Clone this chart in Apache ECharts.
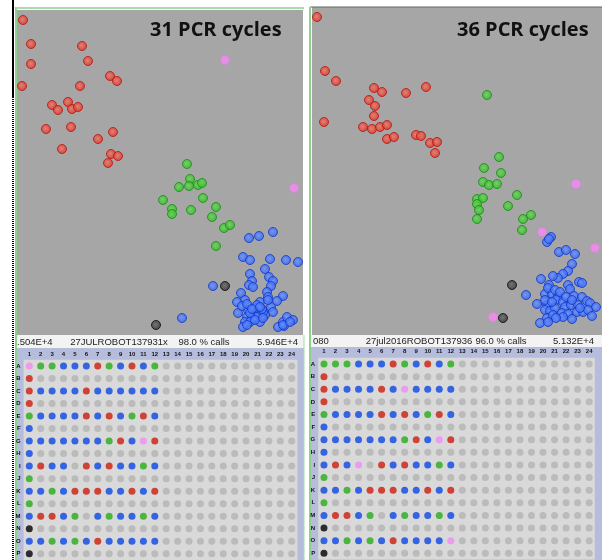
<!DOCTYPE html>
<html><head><meta charset="utf-8">
<script src="https://cdn.jsdelivr.net/npm/echarts@6/dist/echarts.min.js"></script>
<style>html,body{margin:0;padding:0;background:#fff}#c{width:602px;height:560px}</style>
</head><body><div id="c"></div>
<script>
// ---- Scatter data (signal units, x = allele 1, y = allele 2) ----
const leftRed = [[6,313],[14,289],[14,269],[5,247],[65,287],[71,272],[93,257],[100,252],[63,247],[35,228],[41,223],[51,231],[55,224],[61,226],[29,204],[54,206],[96,201],[81,194],[45,184],[94,179],[101,177],[91,170]];
const leftGreen = [[170,169],[173,154],[162,146],[172,147],[181,148],[185,150],[146,133],[186,135],[155,124],[155,119],[174,123],[199,126],[195,116],[207,105],[213,108],[199,87]];
const leftBlue = [[232,95],[242,97],[256,101],[226,76],[233,73],[253,74],[269,73],[281,71],[233,59],[248,64],[252,56],[256,52],[235,52],[232,48],[236,46],[196,47],[224,40],[254,47],[250,41],[251,36],[266,37],[260,32],[228,33],[220,31],[243,31],[254,26],[256,21],[221,20],[231,23],[236,20],[241,20],[248,18],[230,16],[235,15],[240,16],[243,11],[228,11],[226,6],[165,15],[261,6],[266,11],[270,16],[276,13],[267,7],[233,20],[238,25],[246,21],
  [225,27],[230,29],[240,28],[245,24],[233,11],[238,13],[230,8],[246,15],[251,33],[266,8],[273,11],[235,24],[243,26]];
const leftPink = [[208,273],[277,145]];
const leftBlack = [[208,47],[139,8]];

const rightRed = [[5,316],[13,262],[24,252],[62,245],[70,241],[94,240],[114,246],[57,233],[63,227],[62,217],[12,211],[51,206],[60,204],[68,206],[75,208],[75,194],[82,196],[104,198],[109,197],[118,190],[125,191],[123,180]];
const rightGreen = [[175,238],[187,176],[172,165],[189,160],[171,151],[177,148],[185,149],[205,138],[165,134],[171,135],[165,129],[167,123],[196,127],[165,114],[211,114],[219,118],[210,103]];
const rightBlue = [[239,96],[235,91],[237,94],[247,81],[254,83],[263,79],[260,69],[256,62],[251,59],[246,55],[241,57],[229,54],[237,48],[267,51],[270,50],[256,48],[258,44],[214,38],[233,39],[240,39],[246,37],[262,37],[270,36],[275,32],[225,29],[235,28],[244,33],[251,31],[253,26],[259,28],[266,28],[278,30],[284,26],[233,23],[238,22],[243,25],[250,20],[256,19],[265,21],[271,21],[276,23],[235,15],[241,18],[251,16],[260,14],[280,17],[228,10],
  [236,45],[243,43],[248,41],[233,33],[240,31],[254,36],[260,33],[244,15],[236,11],[268,25]];
const rightPink = [[264,149],[230,101],[283,85],[181,16]];
const rightBlack = [[200,48],[191,15]];

// ---- Plate calls (rows A-P, columns 1..24; R red, B blue, G green, P pink, K black, '.' none) ----
const plateRows = ['A','B','C','D','E','F','G','H','I','J','K','L','M','N','O','P'];
const plateCols = Array.from({length:24},(_,i)=>String(i+1));
const plateLeft = ['PGGBBBRGBRBG','R','RBBBBRBBBBBB','R','GBBBBRBRBGRB','B','BBBBBBBGRBPR','B','BRBB.RBRBBGB','G','BBGBRRRBBRBR','G','BRRBG.BGBBGB','K','BBGBGBRBBBBB','K'];
const plateRight = ['GGGBBBRGBRBG','R','RBBBBRBPBBBB','R','GBBBBRBRBGRB','B','BBBBBBBGRBPR','B','BRBP.RBRBBGB','G','BBGBRRRBBRBR','G','BRRBG.BGBBGB','K','BBGBGBRBBBBP','K'];

const titles = ['31 PCR cycles','36 PCR cycles'];
const headerLeft = ['.504E+4','27JULROBOT137931x','98.0 % calls','5.946E+4'];
const headerRight = ['080','27jul2016ROBOT137936','96.0 % calls','5.132E+4'];

const callColor = {R:'#cc1c0c',B:'#0a46e2',G:'#26ac18',P:'#f08cf2',K:'#000000','.':'#b3b3b3'};

function plateData(rows){
  const out=[];
  for(let r=0;r<16;r++){
    for(let c=0;c<24;c++){
      const s=rows[r]; const code=(c<s.length)?s[c]:'.';
      out.push([c,r,code]);
    }
  }
  return out;
}
function ball(c0,c1,border){
  return {color:{type:'radial',x:0.45,y:0.45,r:0.6,colorStops:[{offset:0,color:c0},{offset:1,color:c1}]},borderColor:border,borderWidth:1};
}
const styles = {
  red: ball('#f0766a','#d82c1e','#b8140a'),
  green: ball('#6ad85c','#2cb41e','#149010'),
  blue: ball('#6a92ff','#2c5ef0','#1238c8'),
  pink: {color:'#f58af5',borderColor:'#f070f0',borderWidth:0.5},
  black: ball('#666','#2a2a2a','#0a0a0a')
};
function sc(name,data,gi,st){
  return {type:'scatter',name,data,xAxisIndex:gi,yAxisIndex:gi,symbolSize:9,itemStyle:st,silent:true,animation:false};
}

const chart = echarts.init(document.getElementById('c'),null,{renderer:'canvas'});
const hidden = {show:false};
const hdrFont = '9.5px "Liberation Sans"';
const option = {
  animation:false,
  backgroundColor:'#ffffff',
  grid:[
    {left:17,top:10,width:286,height:325,show:true,backgroundColor:'#a6a6a6',borderWidth:0},
    {left:312,top:7,width:290,height:328,show:true,backgroundColor:'#a6a6a6',borderWidth:0},
    {left:23.6,top:359.7,width:273.8,height:202.7,show:true,backgroundColor:'#d9d9d9',borderWidth:0},
    {left:318.2,top:357.7,width:276.7,height:201.9,show:true,backgroundColor:'#d9d9d9',borderWidth:0}
  ],
  xAxis:[
    {gridIndex:0,type:'value',min:0,max:286,show:false},
    {gridIndex:1,type:'value',min:0,max:290,show:false},
    {gridIndex:2,type:'category',data:plateCols,position:'top',axisLine:hidden,axisTick:hidden,splitLine:hidden,
      axisLabel:{fontSize:6,fontWeight:'bold',color:'#111',margin:2,interval:0,fontFamily:'Liberation Sans'}},
    {gridIndex:3,type:'category',data:plateCols,position:'top',axisLine:hidden,axisTick:hidden,splitLine:hidden,
      axisLabel:{fontSize:6,fontWeight:'bold',color:'#111',margin:3,interval:0,fontFamily:'Liberation Sans'}}
  ],
  yAxis:[
    {gridIndex:0,type:'value',min:-2,max:323,show:false},
    {gridIndex:1,type:'value',min:-2,max:326,show:false},
    {gridIndex:2,type:'category',data:plateRows,inverse:true,axisLine:hidden,axisTick:hidden,splitLine:hidden,
      axisLabel:{fontSize:6,fontWeight:'bold',color:'#111',margin:3,interval:0,fontFamily:'Liberation Sans'}},
    {gridIndex:3,type:'category',data:plateRows,inverse:true,axisLine:hidden,axisTick:hidden,splitLine:hidden,
      axisLabel:{fontSize:6,fontWeight:'bold',color:'#111',margin:3,interval:0,fontFamily:'Liberation Sans'}}
  ],
  series:[
    sc('lr',leftRed,0,styles.red), sc('lg',leftGreen,0,styles.green), sc('lb',leftBlue,0,styles.blue),
    sc('lp',leftPink,0,styles.pink), sc('lk',leftBlack,0,styles.black),
    sc('rr',rightRed,1,styles.red), sc('rg',rightGreen,1,styles.green), sc('rb',rightBlue,1,styles.blue),
    sc('rp',rightPink,1,styles.pink), sc('rk',rightBlack,1,styles.black),
    {type:'scatter',data:plateData(plateLeft),xAxisIndex:2,yAxisIndex:2,symbolSize:7,silent:true,
      itemStyle:{color:p=>callColor[p.data[2]]}},
    {type:'scatter',data:plateData(plateRight),xAxisIndex:3,yAxisIndex:3,symbolSize:7,silent:true,
      itemStyle:{color:p=>callColor[p.data[2]]}}
  ],
  graphic:[
    {type:'rect',z:-10,shape:{x:17,y:335,width:287,height:225},style:{fill:'#b6bddc'}},
    {type:'rect',z:-10,shape:{x:311,y:335,width:291,height:225},style:{fill:'#b6bddc'}},
    {type:'rect',z:-9,shape:{x:17,y:335,width:287,height:13},style:{fill:'#f3f3f3'}},
    {type:'rect',z:-9,shape:{x:311,y:335,width:291,height:12},style:{fill:'#f3f3f3'}},
    {type:'line',shape:{x1:13,y1:0,x2:13,y2:97},style:{stroke:'#000',lineWidth:2}},
    {type:'line',shape:{x1:13,y1:97,x2:13,y2:560},style:{stroke:'#000',lineWidth:2,lineDash:[1,1]}},
    {type:'line',shape:{x1:16,y1:7,x2:16,y2:560},style:{stroke:'#8fcf8f',lineWidth:2}},
    {type:'line',shape:{x1:16,y1:8,x2:304,y2:8},style:{stroke:'#a8dca8',lineWidth:2}},
    {type:'line',shape:{x1:304,y1:335,x2:304,y2:560},style:{stroke:'#a8dca8',lineWidth:1}},
    {type:'line',shape:{x1:310,y1:7,x2:602,y2:7},style:{stroke:'#5d6b5d',lineWidth:1}},
    {type:'line',shape:{x1:310,y1:7,x2:310,y2:560},style:{stroke:'#8fcf8f',lineWidth:2}},
    {type:'text',left:150,top:20,style:{text:titles[0],font:'bold 20px "Open Sans"',fill:'#111'}},
    {type:'text',left:457,top:20,style:{text:titles[1],font:'bold 20px "Open Sans"',fill:'#111'}},
    {type:'text',x:17,y:342,style:{text:headerLeft[0],font:hdrFont,fill:'#222',textAlign:'left',textVerticalAlign:'middle'}},
    {type:'text',x:119,y:342,style:{text:headerLeft[1],font:hdrFont,fill:'#222',textAlign:'center',textVerticalAlign:'middle'}},
    {type:'text',x:204,y:342,style:{text:headerLeft[2],font:hdrFont,fill:'#222',textAlign:'center',textVerticalAlign:'middle'}},
    {type:'text',x:298,y:342,style:{text:headerLeft[3],font:hdrFont,fill:'#222',textAlign:'right',textVerticalAlign:'middle'}},
    {type:'text',x:313,y:341,style:{text:headerRight[0],font:hdrFont,fill:'#222',textAlign:'left',textVerticalAlign:'middle'}},
    {type:'text',x:419,y:341,style:{text:headerRight[1],font:hdrFont,fill:'#222',textAlign:'center',textVerticalAlign:'middle'}},
    {type:'text',x:501,y:341,style:{text:headerRight[2],font:hdrFont,fill:'#222',textAlign:'center',textVerticalAlign:'middle'}},
    {type:'text',x:594,y:341,style:{text:headerRight[3],font:hdrFont,fill:'#222',textAlign:'right',textVerticalAlign:'middle'}}
  ]
};
chart.setOption(option);
</script></body></html>
